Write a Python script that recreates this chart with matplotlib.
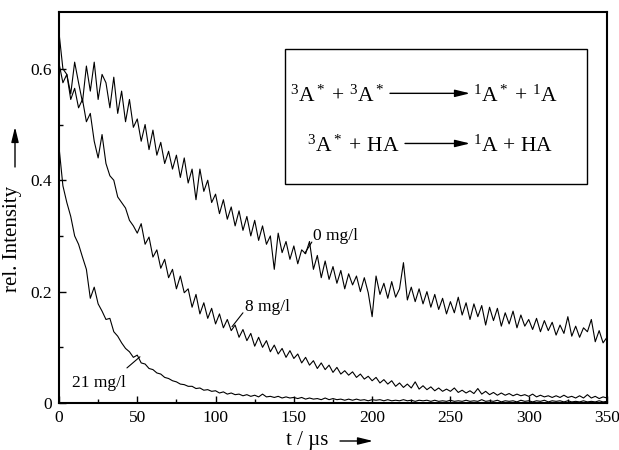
import matplotlib
matplotlib.use("Agg")
import matplotlib.pyplot as plt
import numpy as np
from matplotlib.patches import Rectangle

plt.rcParams['font.family'] = ['Liberation Serif', 'DejaVu Serif']
plt.rcParams['mathtext.fontset'] = 'custom'
plt.rcParams['mathtext.rm'] = 'Liberation Serif'
plt.rcParams['mathtext.it'] = 'Liberation Serif:italic'
plt.rcParams['mathtext.default'] = 'rm'

# sampling times in microseconds (2.5 us steps, 0..350)
t = np.arange(0, 350.1, 2.5)

# values, one row per 25 us
i_0 = [
    0.665, 0.600, 0.590, 0.555, 0.612, 0.575, 0.540, 0.605, 0.560, 0.612,
    0.545, 0.590, 0.575, 0.530, 0.585, 0.520, 0.560, 0.505, 0.545, 0.495,
    0.510, 0.470, 0.500, 0.455, 0.490, 0.445, 0.468, 0.430, 0.452, 0.420,
    0.445, 0.405, 0.440, 0.395, 0.420, 0.365, 0.420, 0.380, 0.400, 0.360,
    0.375, 0.340, 0.365, 0.330, 0.352, 0.318, 0.345, 0.310, 0.335, 0.300,
    0.328, 0.292, 0.318, 0.285, 0.300, 0.240, 0.305, 0.270, 0.290, 0.258,
    0.282, 0.250, 0.275, 0.268, 0.290, 0.240, 0.265, 0.225, 0.255, 0.222,
    0.245, 0.215, 0.238, 0.205, 0.232, 0.212, 0.228, 0.200, 0.225, 0.198,
    0.155, 0.228, 0.195, 0.215, 0.188, 0.218, 0.190, 0.205, 0.252, 0.185,
    0.208, 0.182, 0.205, 0.178, 0.200, 0.172, 0.195, 0.168, 0.188, 0.160,
    0.182, 0.162, 0.190, 0.158, 0.180, 0.150, 0.178, 0.155, 0.175, 0.140,
    0.172, 0.148, 0.170, 0.138, 0.162, 0.142, 0.165, 0.135, 0.158, 0.138,
    0.150, 0.132, 0.152, 0.128, 0.148, 0.130, 0.145, 0.122, 0.140, 0.125,
    0.155, 0.120, 0.138, 0.118, 0.135, 0.128, 0.150, 0.110, 0.130, 0.108,
    0.118,
]
i_8 = [
    0.610, 0.575, 0.590, 0.545, 0.565, 0.530, 0.545, 0.505, 0.520, 0.470,
    0.440, 0.482, 0.430, 0.408, 0.400, 0.370, 0.360, 0.350, 0.328, 0.318,
    0.305, 0.322, 0.285, 0.298, 0.262, 0.275, 0.242, 0.258, 0.225, 0.240,
    0.205, 0.228, 0.198, 0.205, 0.172, 0.195, 0.160, 0.180, 0.152, 0.170,
    0.142, 0.160, 0.135, 0.150, 0.130, 0.140, 0.118, 0.132, 0.112, 0.125,
    0.102, 0.118, 0.100, 0.112, 0.092, 0.104, 0.088, 0.098, 0.082, 0.094,
    0.080, 0.088, 0.072, 0.082, 0.068, 0.076, 0.062, 0.072, 0.060, 0.068,
    0.055, 0.064, 0.052, 0.058, 0.050, 0.056, 0.046, 0.052, 0.043, 0.048,
    0.040, 0.046, 0.036, 0.042, 0.034, 0.040, 0.030, 0.036, 0.028, 0.034,
    0.027, 0.038, 0.025, 0.031, 0.024, 0.029, 0.022, 0.027, 0.021, 0.025,
    0.021, 0.027, 0.019, 0.023, 0.018, 0.022, 0.017, 0.026, 0.016, 0.021,
    0.015, 0.019, 0.014, 0.018, 0.014, 0.017, 0.013, 0.016, 0.013, 0.015,
    0.012, 0.016, 0.011, 0.014, 0.011, 0.013, 0.010, 0.013, 0.010, 0.014,
    0.010, 0.012, 0.009, 0.013, 0.009, 0.015, 0.009, 0.012, 0.008, 0.011,
    0.009,
]
i_21 = [
    0.460, 0.390, 0.360, 0.335, 0.300, 0.285, 0.262, 0.240, 0.188, 0.208,
    0.178, 0.165, 0.150, 0.152, 0.128, 0.120, 0.108, 0.098, 0.092, 0.082,
    0.086, 0.072, 0.070, 0.062, 0.060, 0.054, 0.052, 0.046, 0.044, 0.040,
    0.038, 0.034, 0.033, 0.030, 0.030, 0.026, 0.027, 0.023, 0.024, 0.021,
    0.022, 0.018, 0.020, 0.016, 0.018, 0.015, 0.016, 0.013, 0.015, 0.012,
    0.014, 0.011, 0.016, 0.011, 0.012, 0.010, 0.012, 0.009, 0.011, 0.009,
    0.010, 0.008, 0.010, 0.007, 0.009, 0.007, 0.008, 0.006, 0.009, 0.006,
    0.008, 0.006, 0.007, 0.005, 0.007, 0.005, 0.007, 0.005, 0.006, 0.004,
    0.006, 0.005, 0.006, 0.004, 0.006, 0.004, 0.005, 0.004, 0.006, 0.004,
    0.005, 0.003, 0.005, 0.004, 0.005, 0.003, 0.005, 0.003, 0.004, 0.003,
    0.005, 0.003, 0.004, 0.003, 0.005, 0.003, 0.004, 0.003, 0.006, 0.003,
    0.004, 0.003, 0.005, 0.002, 0.004, 0.003, 0.004, 0.002, 0.005, 0.003,
    0.004, 0.002, 0.004, 0.003, 0.005, 0.002, 0.004, 0.003, 0.004, 0.002,
    0.004, 0.002, 0.003, 0.002, 0.004, 0.002, 0.003, 0.002, 0.004, 0.002,
    0.003,
]

fig = plt.figure(figsize=(6.19, 4.5), dpi=100)
ax = fig.add_axes([0.0953, 0.1044, 0.8853, 0.8689])

for y in (i_0, i_8, i_21):
    ax.plot(t, y, color='k', lw=0.8)

ax.set_xlim(0, 350)
ax.set_ylim(0, 0.702)
ax.set_xticks(np.arange(0, 351, 50))
ax.set_xticks(np.arange(25, 350, 50), minor=True)
ax.set_yticks([0, 0.2, 0.4, 0.6])
ax.set_yticklabels(['0', '0.2', '0.4', '0.6'])
ax.set_yticks([0.1, 0.3, 0.5], minor=True)
ax.tick_params(which='both', direction='in', labelsize=12.5, pad=5)
ax.tick_params(which='major', length=5, width=1)
ax.tick_params(which='minor', length=3, width=1)
for s in ax.spines.values():
    s.set_linewidth(1.5)

# curve labels with leader lines
ax.text(162, 0.300, '0 mg/l', fontsize=12.5, va='center', ha='left')
ax.annotate('', xy=(157, 0.269), xytext=(161.5, 0.289),
            arrowprops=dict(arrowstyle='-', lw=0.8, shrinkA=0, shrinkB=0))
ax.text(119, 0.172, '8 mg/l', fontsize=12.5, va='center', ha='left')
ax.annotate('', xy=(110.5, 0.137), xytext=(117.5, 0.162),
            arrowprops=dict(arrowstyle='-', lw=0.8, shrinkA=0, shrinkB=0))
ax.text(8.5, 0.036, '21 mg/l', fontsize=12.5, va='center', ha='left')
ax.annotate('', xy=(51.7, 0.083), xytext=(43.4, 0.063),
            arrowprops=dict(arrowstyle='-', lw=0.8, shrinkA=0, shrinkB=0))

# reaction scheme box
ax.add_patch(Rectangle((144.3, 0.393), 192.9, 0.243, fill=False, lw=1.0))
fs = 15.5
ax.text(208, 0.541, r'$^3A^*\,+\,{}^3A^*$', fontsize=fs, ha='right', va='baseline')
ax.text(264.4, 0.541, r'$^1A^*\,+\,{}^1A$', fontsize=fs, ha='left', va='baseline')
ax.text(217.7, 0.451, r'$^3A^*\,+\,HA$', fontsize=fs, ha='right', va='baseline')
ax.text(264.4, 0.451, r'$^1A\,+\,HA$', fontsize=fs, ha='left', va='baseline')
head = '-|>,head_length=0.9,head_width=0.22'
ax.annotate('', xy=(262.5, 0.556), xytext=(211.4, 0.556),
            arrowprops=dict(arrowstyle=head, lw=1.0, color='k', shrinkA=0, shrinkB=0))
ax.annotate('', xy=(262.5, 0.466), xytext=(221.0, 0.466),
            arrowprops=dict(arrowstyle=head, lw=1.0, color='k', shrinkA=0, shrinkB=0))

# axis labels with arrows
fig.text(13 / 619, 211 / 450, 'rel. Intensity', rotation=90, fontsize=15,
         ha='center', va='center')
fig.text(307 / 619, 10 / 450, 't / µs', fontsize=15, ha='center', va='center')
ax.annotate('', xy=(15, 323), xytext=(15, 283), xycoords='figure pixels',
            arrowprops=dict(arrowstyle=head, lw=1.0, color='k', shrinkA=0, shrinkB=0))
ax.annotate('', xy=(373, 9), xytext=(340, 9), xycoords='figure pixels',
            arrowprops=dict(arrowstyle=head, lw=1.0, color='k', shrinkA=0, shrinkB=0))

fig.savefig('out.png', dpi=100)
